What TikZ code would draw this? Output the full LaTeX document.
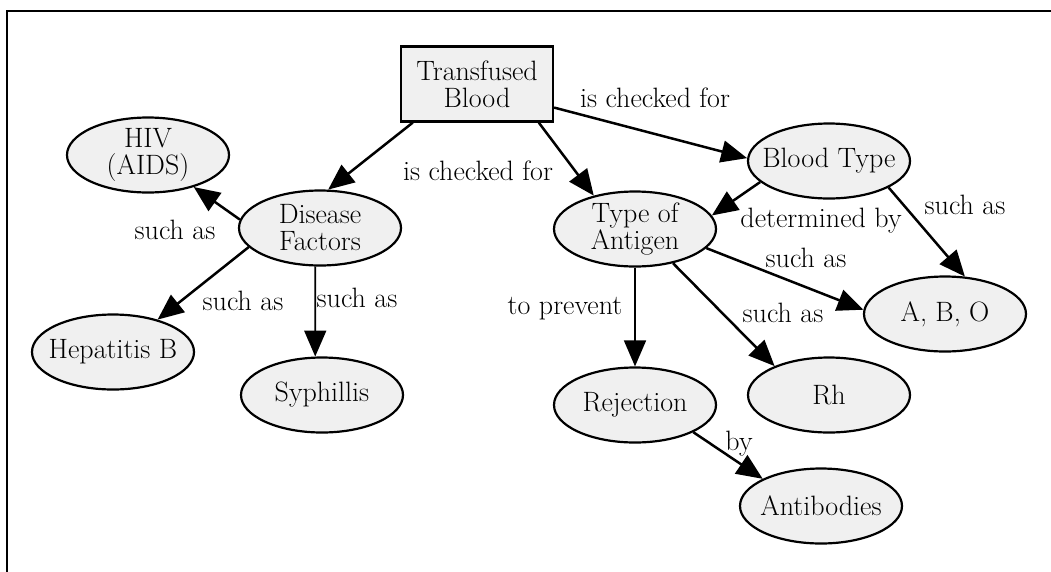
\documentclass[tikz,border=0pt]{standalone}
\usetikzlibrary{shapes.geometric,arrows.meta}
\definecolor{nodefill}{RGB}{240,240,240}
\begin{document}
\begin{tikzpicture}[x=1pt,y=-1pt,
  every node/.style={font=\fontsize{28}{27}\selectfont},
  concept/.style={ellipse, draw, line width=2.2pt, fill=nodefill,
    minimum width=162pt, minimum height=75pt,
    inner xsep=-35pt, inner ysep=-4pt, align=center},
  source/.style={rectangle, draw, line width=2.2pt, fill=nodefill,
    minimum width=152pt, minimum height=75pt, inner sep=0pt, align=center},
  link/.style={line width=2.5pt, -{Triangle[length=26pt,width=22pt]}},
  vlink/.style={link, line width=1.7pt},
  lbl/.style={anchor=base, inner sep=0pt}]

% page and frame
\useasboundingbox (0,0) rectangle (1051,571);
\clip (0,0) rectangle (1051,571);
\draw[line width=2.8pt] (7,11) rectangle (1080,600);

% concepts
\node[source]  (tb)  at (477,84)  {Transfused\\Blood};
\node[concept] (hiv) at (148,155) {HIV\\(AIDS)};
\node[concept] (df)  at (320,228) {Disease\\Factors};
\node[concept] (bt)  at (829,161) {Blood Type};
\node[concept] (toa) at (635,229) {Type of\\Antigen};
\node[concept] (abo) at (945,314) {A, B, O};
\node[concept] (hep) at (113,352) {Hepatitis B};
\node[concept] (syp) at (322,395) {Syphillis};
\node[concept] (rej) at (635,405) {Rejection};
\node[concept] (rh)  at (829,395) {Rh};
\node[concept] (ab)  at (821,506) {Antibodies};

% connectors
\draw[link]  (tb.211)  -- (df.78);
\draw[link]  (tb.328)  -- (toa.141);
\draw[link]  (tb.343)  -- (bt.178);
\draw[link]  (df.174)  -- (hiv.325);
\draw[link]  (df.195)  -- (hep.36);
\draw[vlink] (df.263)  -- (syp.100);
\draw[link]  (bt.197)  -- (toa.10);
\draw[link]  (bt.336)  -- (abo.62);
\draw[link]  (toa.345) -- (abo.177);
\draw[vlink] (toa.south) -- (rej.north);
\draw[link]  (toa.318) -- (rh.152);
\draw[link]  (rej.335) -- (ab.155);

% link phrases
\node[lbl] (l1)  at (655,107) {is checked for};
\node[lbl] (l2)  at (478,180) {is checked for};
\node[lbl] (l3)  at (175,239) {such as};
\node[lbl] (l4)  at (821,227) {determined by};
\node[lbl] (l5)  at (965,214) {such as};
\node[lbl] (l6)  at (806,267) {such as};
\node[lbl] (l7)  at (243,310) {such as};
\node[lbl] (l8)  at (357,307) {such as};
\node[lbl] (l9)  at (565,314) {to prevent};
\node[lbl] (l10) at (783,322) {such as};
\node[lbl] (l11) at (739,450) {by};
\end{tikzpicture}
\end{document}
